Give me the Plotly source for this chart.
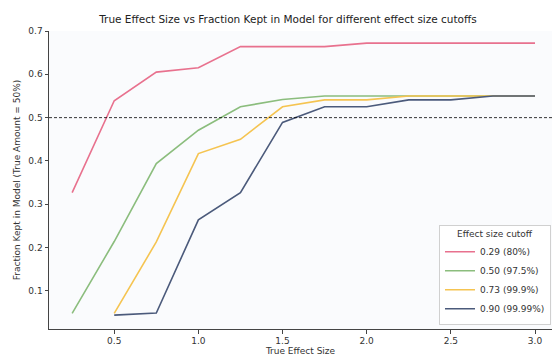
import plotly.graph_objects as go

effect_sizes = [0.25, 0.5, 0.75, 1.0, 1.25, 1.5, 1.75, 2.0, 2.25, 2.5, 2.75, 3.0]
labels = ["0.29 (80%)", "0.50 (97.5%)", "0.73 (99.9%)", "0.90 (99.99%)"]
colors = ["#e8718e", "#8bbd7d", "#f5c451", "#4b5a7b"]

s029 = [0.327, 0.539, 0.605, 0.615, 0.664, 0.664, 0.664, 0.672, 0.672, 0.672, 0.672, 0.672]
s050 = [0.048, 0.214, 0.394, 0.471, 0.525, 0.542, 0.550, 0.550, 0.550, 0.550, 0.550, 0.550]
s073 = [None, 0.048, 0.213, 0.417, 0.450, 0.525, 0.541, 0.541, 0.550, 0.550, 0.550, 0.550]
s090 = [None, 0.044, 0.049, 0.264, 0.327, 0.489, 0.525, 0.525, 0.541, 0.541, 0.550, 0.550]
series = [s029, s050, s073, s090]

font = "DejaVu Sans"
fig = go.Figure()
for lab, col, ys in zip(labels, colors, series):
    xs = [x for x, y in zip(effect_sizes, ys) if y is not None]
    yv = [y for y in ys if y is not None]
    fig.add_trace(go.Scatter(x=xs, y=yv, mode="lines", name=lab,
                             line=dict(color=col, width=1.6)))

fig.add_hline(y=0.5, line=dict(color="black", width=0.8, dash="3px,2px"))

fig.update_layout(
    width=552, height=356,
    margin=dict(l=49, r=0, t=31, b=27, autoexpand=False),
    paper_bgcolor="white", plot_bgcolor="#fafbfd",
    font=dict(family=font, size=9, color="#333333"),
    title=dict(text="True Effect Size vs Fraction Kept in Model for different effect size cutoffs",
               x=288/552, xanchor="center", y=1-19/356, yanchor="middle",
               font=dict(family=font, size=10.5, color="#222222")),
    showlegend=True,
    legend=dict(title=dict(text="Effect size cutoff", side="top center", font=dict(size=9)),
                x=0.998, xanchor="right", y=0.015, yanchor="bottom",
                bgcolor="rgba(255,255,255,0.9)", bordercolor="#d0d0d0", borderwidth=1,
                font=dict(size=9), tracegroupgap=0, itemwidth=30),
)
fig.update_xaxes(range=[0.1125, 3.101], tickvals=[0.5, 1.0, 1.5, 2.0, 2.5, 3.0],
                 ticktext=["0.5", "1.0", "1.5", "2.0", "2.5", "3.0"], automargin=False,
                 showgrid=False, zeroline=False, showline=True, linecolor="#444444", linewidth=1,
                 ticks="outside", ticklen=3.5, tickcolor="#444444",
                 title=dict(text="True Effect Size", font=dict(size=9), standoff=2))
fig.update_yaxes(range=[0.012, 0.7], tickvals=[0.1, 0.2, 0.3, 0.4, 0.5, 0.6, 0.7],
                 ticktext=["0.1", "0.2", "0.3", "0.4", "0.5", "0.6", "0.7"], automargin=False,
                 showgrid=False, zeroline=False, showline=True, linecolor="#444444", linewidth=1,
                 ticks="outside", ticklen=3.5, tickcolor="#444444",
                 title=dict(text="Fraction Kept in Model (True Amount = 50%)", font=dict(size=9), standoff=6))
fig.write_html("out.html", config={"displayModeBar": False},
               post_script="document.body.style.margin='0';document.body.style.overflow='hidden';")
